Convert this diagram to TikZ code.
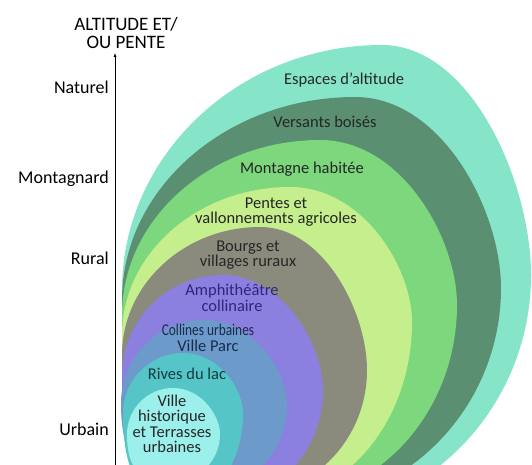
\documentclass[tikz,border=0pt]{standalone}
\usepackage{fontspec}
\setmainfont{Carlito}
\usepackage{graphicx}
\usetikzlibrary{arrows}

\definecolor{espace}{HTML}{86E5C9}
\definecolor{versant}{HTML}{5A8F72}
\definecolor{montagne}{HTML}{7CD77D}
\definecolor{pente}{HTML}{C5EE8C}
\definecolor{bourg}{HTML}{8A8B7D}
\definecolor{amphi}{HTML}{8B7FE0}
\definecolor{colline}{HTML}{6C9ACB}
\definecolor{rive}{HTML}{56C5C7}
\definecolor{ville}{HTML}{9BF0EB}

\begin{document}
\begin{tikzpicture}[x=1pt,y=-1pt]
    \tikzstyle{ZoneLabel}=[align=center,inner sep=0pt,text=black!85,
                           font=\fontsize{16.5}{15.5}\selectfont]
    \tikzstyle{AxisLabel}=[anchor=base east,inner sep=0pt,
                           font=\fontsize{18}{17}\selectfont]
    \useasboundingbox (0,0) rectangle (532,465);
    \begin{scope}
    \clip (0,0) rectangle (532,465);
    % left / top / right / bottom points of each zone
    \foreach \lx/\ly/\tx/\ty/\rx/\ry/\bx/\by/\col in {
        122/290/382/45/531/275/300/515/espace,
        122/300/355/97/501/288/290/505/versant,
        122/315/320/140/457/305/280/500/montagne,
        122/335/290/187/412/322/270/498/pente,
        122/355/260/227/367/370/250/494/bourg,
        122/376/222/275/323/390/222/500/amphi,
        121/403/204/320/287/405/205/490/colline,
        123/413/183/353/243/413/185/500/rive,
        127/434/173/388/220/434/173/482/ville}
    {
        \fill[\col] (\lx,\ly)
            .. controls (\lx,{\ly-0.55*(\ly-\ty)}) and ({\tx-0.55*(\tx-\lx)},\ty) .. (\tx,\ty)
            .. controls ({\tx+0.6*(\rx-\tx)},\ty) and (\rx,{\ty+0.6*(\ry-\ty)}) .. (\rx,\ry)
            .. controls (\rx,{\ry+0.55*(\by-\ry)}) and ({\bx+0.55*(\rx-\bx)},\by) .. (\bx,\by)
            .. controls ({\bx-0.55*(\bx-\lx)},\by) and (\lx,{\ly+0.9*(\by-\ly)}) .. cycle;
    }
    \end{scope}

    % axis
    \coordinate (o) at (115,465);
    \coordinate (h) at (115,53);
    \draw[-latex,thin] (o) -- (h);
    \node[align=center,inner sep=0pt,font=\fontsize{19}{17.5}\selectfont]
        (titre) at (126,33) {ALTITUDE ET/\\OU PENTE};
    \node[AxisLabel] (nat) at (109,94) {Naturel};
    \node[AxisLabel] (mont) at (109,183) {Montagnard};
    \node[AxisLabel] (rur) at (109,264) {Rural};
    \node[AxisLabel] (urb) at (109,435) {Urbain};

    % zones
    \node[ZoneLabel] (esp) at (344,80) {Espaces d’altitude};
    \node[ZoneLabel] (vers) at (325,122) {Versants boisés};
    \node[ZoneLabel] (mth) at (302,169) {Montagne habitée};
    \node[ZoneLabel] (pva) at (276,212) {Pentes et\\vallonnements agricoles};
    \node[ZoneLabel] (bvr) at (248,255) {Bourgs et\\villages ruraux};
    \node[ZoneLabel,text={rgb,255:red,46;green,39;blue,119}] (amc) at (232,298)
        {Amphithéâtre\\collinaire};
    \node[ZoneLabel,text={rgb,255:red,28;green,42;blue,74}] (cvp) at (208,338)
        {\scalebox{0.81}[1]{Collines urbaines}\\Ville Parc};
    \node[ZoneLabel,text={rgb,255:red,18;green,60;blue,66}] (rdl) at (187,374) {Rives du lac};
    \node[ZoneLabel] (vhi) at (172,424) {Ville\\historique\\et Terrasses\\urbaines};
\end{tikzpicture}
\end{document}
